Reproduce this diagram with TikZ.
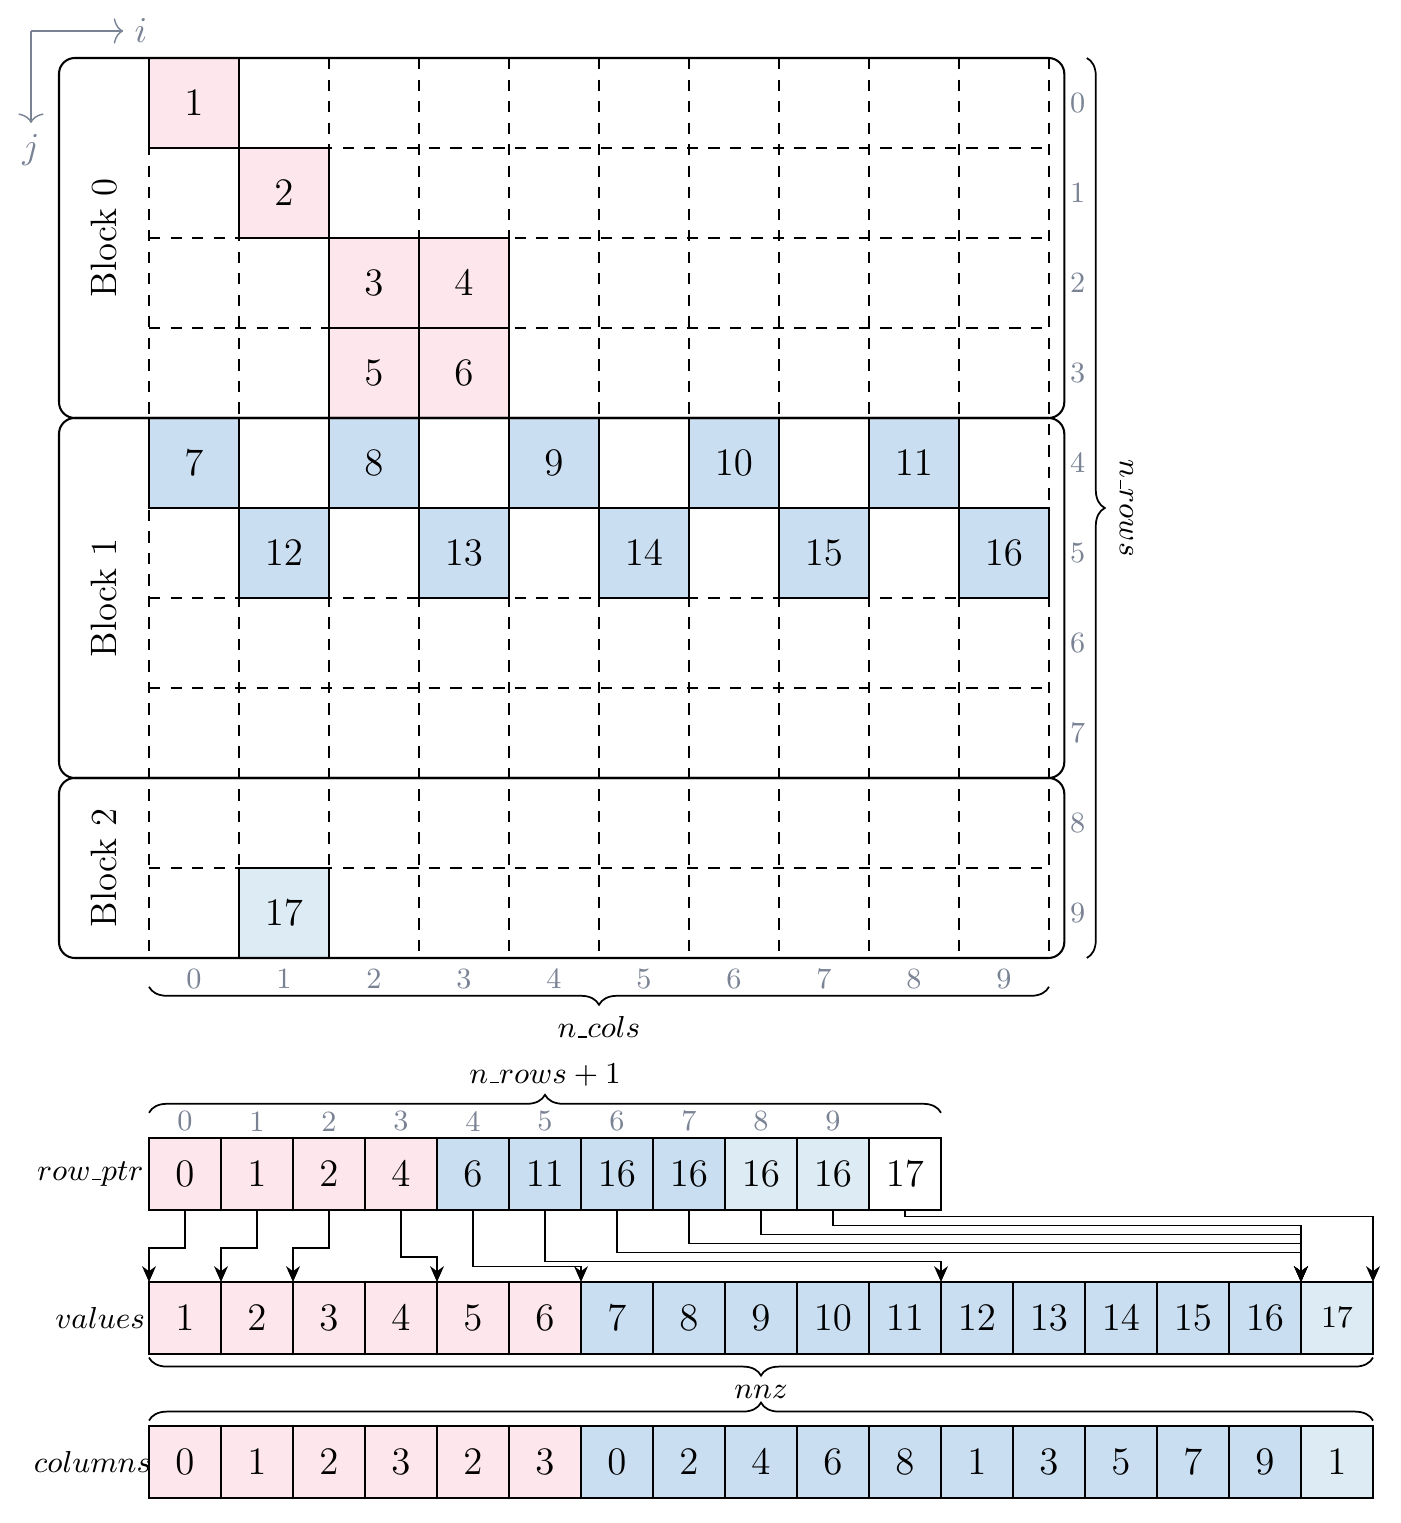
\RequirePackage{fix-cm}
\documentclass[tikz,border=0pt]{standalone}
\usepackage{amsmath}
\usetikzlibrary{arrows,arrows.meta,positioning,decorations.pathreplacing}

\definecolor{nzpink}{HTML}{FDE6EC}
\definecolor{nzblue}{HTML}{CADEF2}
\definecolor{nzlight}{HTML}{DDEBF4}
\definecolor{idxgray}{HTML}{7A8394}

\newcommand{\usc}{\mathord{\kern.06em\vbox{\hrule width.3em height.45pt}}}

\begin{document}
\begin{tikzpicture}[semithick,
  bigcell/.style={draw,line width=0.5pt,minimum size=1cm,inner sep=0pt,outer sep=0pt,
                  font=\fontsize{12.3}{14}\selectfont},
  cell/.style={draw,line width=0.5pt,minimum size=0.8cm,inner sep=0pt,outer sep=0pt,
               font=\fontsize{12.3}{14}\selectfont},
  idx/.style={text=idxgray,font=\fontsize{9.3}{11}\selectfont},
  lbl/.style={font=\fontsize{9.6}{11}\selectfont},
  axlbl/.style={text=idxgray,font=\fontsize{11.5}{13}\selectfont},
  blockbox/.style={draw,line width=0.65pt,rounded corners=5pt},
  gridline/.style={line width=0.45pt,dash pattern=on 3.6pt off 3.2pt},
  brace/.style={decorate,decoration={brace,amplitude=0.2cm},line width=0.55pt},
  ptr/.style={-{Stealth[length=5pt,width=4.4pt,inset=1.6pt]},line width=0.5pt},
  axis/.style={-{To[length=3pt,width=8pt]},draw=idxgray,line width=0.45pt}]
  \useasboundingbox (-1.6556,0.6444) rectangle (13.9,-16.278);

  % axes
  \coordinate (ax0) at (-1.311,0.3);
  \node[axlbl] (axi) at (-0.089,0.3)   {$i$};
  \node[axlbl] (axj) at (-1.311,-1.022) {$j$};
  \draw[axis] (ax0) -- (axi.west);
  \draw[axis] (ax0) -- (axj.north);

  % dense matrix
  \foreach \x in {0,...,10}
    \draw[gridline] (\x,0) -- (\x,-10);
  \foreach \y in {1,...,9}
    \draw[gridline] (0,-\y) -- (10,-\y);

  \foreach \c/\r/\v/\col in {0/0/1/nzpink,1/1/2/nzpink,2/2/3/nzpink,3/2/4/nzpink,
      2/3/5/nzpink,3/3/6/nzpink,
      0/4/7/nzblue,2/4/8/nzblue,4/4/9/nzblue,6/4/10/nzblue,8/4/11/nzblue,
      1/5/12/nzblue,3/5/13/nzblue,5/5/14/nzblue,7/5/15/nzblue,9/5/16/nzblue,
      1/9/17/nzlight}
    \node[bigcell,fill=\col] (nz\v) at ({\c+0.5},{-\r-0.5}) {$\v$};

  % blocks
  \draw[blockbox] (-1,0) rectangle (10.17,-4);
  \draw[blockbox] (-1,-4) rectangle (10.17,-8);
  \draw[blockbox] (-1,-8) rectangle (10.17,-10);
  \node[rotate=90,font=\fontsize{11.6}{13}\selectfont] (blk0) at (-0.5,-2) {Block 0};
  \node[rotate=90,font=\fontsize{11.6}{13}\selectfont] (blk1) at (-0.5,-6) {Block 1};
  \node[rotate=90,font=\fontsize{11.6}{13}\selectfont] (blk2) at (-0.5,-9) {Block 2};

  \foreach \j in {0,...,9}
    \node[idx] (ri\j) at (10.32,{-\j-0.5}) {\j};
  \foreach \i in {0,...,9}
    \node[idx] (ci\i) at ({\i+0.5},-10.23) {\i};

  \draw[brace] (10.42,0) -- (10.42,-10);
  \node[lbl,rotate=-90] (nrows) at (10.86,-5) {$n\usc rows$};
  \draw[brace] (10,-10.32) -- (0,-10.32);
  \node[lbl] (ncols) at (5,-10.77) {$n\usc cols$};

  % CSR arrays
  \foreach \i/\v/\col in {0/0/nzpink,1/1/nzpink,2/2/nzpink,3/4/nzpink,
      4/6/nzblue,5/11/nzblue,6/16/nzblue,7/16/nzblue,
      8/16/nzlight,9/16/nzlight,10/17/white}
    \node[cell,fill=\col] (rp\i) at ({0.8*\i+0.4},-12.4) {$\v$};
  \foreach \i/\v/\col in {0/1/nzpink,1/2/nzpink,2/3/nzpink,3/4/nzpink,4/5/nzpink,5/6/nzpink,
      6/7/nzblue,7/8/nzblue,8/9/nzblue,9/10/nzblue,10/11/nzblue,
      11/12/nzblue,12/13/nzblue,13/14/nzblue,14/15/nzblue,15/16/nzblue}
    \node[cell,fill=\col] (val\i) at ({0.8*\i+0.4},-14) {$\v$};
  \node[cell,fill=nzlight,font=\fontsize{9.8}{12}\selectfont] (val16) at (13.2,-14) {$17$};
  \foreach \i/\v/\col in {0/0/nzpink,1/1/nzpink,2/2/nzpink,3/3/nzpink,4/2/nzpink,5/3/nzpink,
      6/0/nzblue,7/2/nzblue,8/4/nzblue,9/6/nzblue,10/8/nzblue,
      11/1/nzblue,12/3/nzblue,13/5/nzblue,14/7/nzblue,15/9/nzblue,16/1/nzlight}
    \node[cell,fill=\col] (col\i) at ({0.8*\i+0.4},-15.6) {$\v$};

  \node[lbl,inner sep=0pt,left=1.5pt of rp0]  (lrp)  {$row\usc ptr$};
  \node[lbl,inner sep=0pt,left=1pt of val0] (lval) {$values$};
  \node[lbl,inner sep=0pt,left=-1pt of col0] (lcol) {$columns$};

  \foreach \i in {0,...,9}
    \node[idx,above=-1.5pt of rp\i] (pi\i) {\i};

  \draw[brace] ([yshift=0.28cm]rp0.north west) -- ([yshift=0.28cm]rp10.north east);
  \node[lbl] (nrp) at (4.4,-11.3) {$n\usc rows+1$};
  \draw[brace] ([yshift=-0.04cm]val16.south east) -- ([yshift=-0.04cm]val0.south west);
  \node[lbl] (nnz) at (6.8,-14.82) {$nnz$};
  \draw[brace] ([yshift=0.06cm]col0.north west) -- ([yshift=0.06cm]col16.north east);

  % row pointers
  \foreach \k/\m/\a/\lv in {0/0/north west/-13.22,1/1/north west/-13.22,
      2/2/north west/-13.22,3/4/north west/-13.32,4/6/north west/-13.43,
      5/11/north west/-13.37,6/16/north west/-13.27,7/16/north west/-13.17,
      8/16/north west/-13.07,9/16/north west/-12.97,10/16/north east/-12.87}
  {
    \coordinate (lv) at (0,\lv);
    \draw[ptr] (rp\k.south) -- (rp\k.south |- lv) -| (val\m.\a);
  }
\end{tikzpicture}
\end{document}
